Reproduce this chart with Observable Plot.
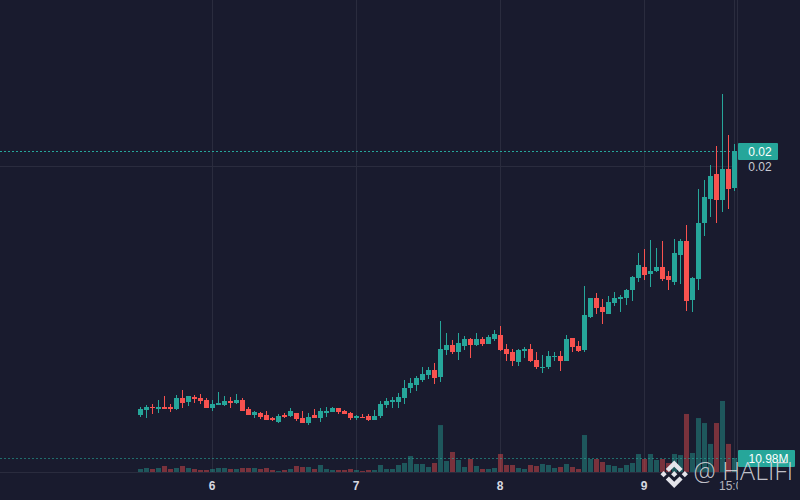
<!DOCTYPE html>
<html>
<head>
<meta charset="utf-8">
<script src="https://cdn.jsdelivr.net/npm/d3@7"></script>
<script src="https://cdn.jsdelivr.net/npm/@observablehq/plot@0.6"></script>
<style>
html,body{margin:0;padding:0;background:#191b2e;overflow:hidden}
</style>
</head>
<body>
<div id="chart"></div>
<script>
// Prices in units of 0.0001
const open = [75.5,78,79.5,78.5,79.5,79.5,78.5,84,82,84.5,84,83,79,80.5,80.5,82.5,81.5,83,78.5,75.5,76.5,75.5,74,72,75.5,75,76.5,74,71.5,75.5,
74,76.5,77,79,77.5,76.5,74,74.5,75,73,75,80.5,82,82,84,89,90.5,93,95.5,98,94.5,108,110.5,107,110,113.5,110.5,113.5,111,113.5,
115.5,108.5,107,102,107.5,108.5,103,99,99.5,104.5,105,102.5,114,110,108,124.5,134,129.5,126,131.5,133.5,134,138,144,149.5,146,147.5,149.5,145,142,
155.5,162.5,133,143.5,171.5,183.5,196,183,198.5,189];
const high = [79.5,80.5,81,83,85,81,85.5,88,85,85.5,86,84,83,87,85,84.5,86,84,79.5,77.5,77,77.5,74.5,76,76.5,79,76.5,77.5,76.5,78.5,
79,79.5,79.5,79,78,77,75.5,76,76,78,82.5,84,84.5,86.5,93,94,95,99.5,99.5,101.5,122.5,116.5,113,116.5,115,114,116.5,114.5,115.5,118,
120,111,108.5,108.5,109.5,111,107,105.5,107.5,107,107.5,115.5,114,112.5,140,134,136.5,133.5,135,137,135.5,138.5,145,156.5,158.5,163,159,162.5,147.5,163.5,
163.5,170.5,144.5,188.5,193,200.5,210,236,215.5,211];
const low = [74.5,74,76,76.5,78.5,77,78,79,80,81.5,81,79,77.5,80.5,80,79,81,77.5,75.5,74,73.5,73,72.5,71.5,74,74.5,72.5,71.5,70.5,74,
72,74.5,77,76,76,73,73,74,72.5,73,74,79,79,79,81,86.5,87.5,92,93.5,91,92,105.5,106,103,108,104,110,110,111,112.5,
107.5,102.5,100,100,104,102,98.5,96.5,98.5,102.5,97.5,102.5,107,107,107,124,126,121,126,130,127,130.5,132.5,142,143,139.5,147,142.5,138,140.5,
141,127.5,127,138,165,174.5,171.5,177,178.5,187.5];
const close = [78.5,79.5,79,79.5,78.5,78.5,84,81.5,85,83.5,82.5,79,81,81.5,82.5,81.5,83,77.5,75.5,77,74.5,73,73,75,74.5,77.5,73.5,71.5,74.5,74,
77.5,77.5,79,77,76,74,75,74,73,75,81,82.5,83,84.5,89,91.5,94,96,98,94,108.5,110.5,107,111.5,113.5,110.5,113.5,111,114.5,116,
108,106,102.5,108,108.5,102.5,99.5,99.5,105,105,102.5,113.5,109.5,107.5,125.5,134,129,127,132,134,134.5,138,144.5,150.5,145.5,147.5,149.5,143.5,143,156.5,
162.5,132.5,144,171.5,184.5,195,183,198.5,188.5,207.5];
// Volume in millions
const volume = [2.35,3.14,2.35,3.14,4.7,2.35,3.14,4.7,3.14,2.35,1.57,1.57,2.35,3.14,3.14,2.35,2.35,3.14,3.14,3.14,2.35,3.14,1.57,0.78,1.57,2.35,4.7,3.92,3.92,2.35,
5.49,2.35,1.57,1.57,1.57,2.35,1.57,0.78,1.57,1.57,5.49,2.35,2.35,5.49,7.06,12.5,6.27,6.27,3.92,7.06,36.8,8.62,15.7,9.41,3.92,10.2,4.7,2.35,2.35,3.14,
14.1,5.49,5.49,3.14,2.35,5.49,4.7,6.27,5.49,3.14,3.92,6.27,3.92,2.35,29,10.2,10.2,7.84,5.49,4.7,3.14,5.49,7.06,14.1,10.2,14.1,9.41,10.2,7.06,14.1,
13.3,45.5,14.9,42.3,38.4,22,38.4,55.7,22,10.98];
const dayTicks = [6,7,8,9];
const lastTickLabel = "15:00";
const lastVolumeLabel = "10.98M";
const watermark = "@ HALIFI";

const H = 3600e3;
const start = Date.UTC(2024,0,5,12);
const time = i => new Date(start + i*H);
const rows = open.map((o,i)=>({i,t:time(i),o,h:high[i],l:low[i],c:close[i],v:volume[i],up:close[i]>=o}));
const halfBody = H*2.5/6;
const UP="#26a69a", DOWN="#f9524f", GRID="#2a2c3e", BG="#191b2e";
const volY = v => 47 + v/1.568;
const lastRow = rows[rows.length-1];
const dayDates = dayTicks.map(d=>new Date(Date.UTC(2024,0,d)));
const FONT = "'Liberation Sans',Arial,sans-serif";

function pane(index, {y}, values, dim){
  const g=d3.create("svg:g");
  const tag=(val,label,w)=>{
    const yy=Math.round(y(val));
    g.append("rect").attr("x",738).attr("y",yy-8).attr("width",w).attr("height",17).attr("rx",1).attr("fill",UP);
    g.append("text").attr("x",738+w/2+2).attr("y",yy+5).attr("text-anchor","middle").attr("fill","#fff")
      .attr("font-family",FONT).attr("font-size",12).text(label);
  };
  g.append("rect").attr("x",738).attr("y",0).attr("width",62).attr("height",500).attr("fill",BG);
  g.append("text").attr("x",760).attr("y",y(200)+5).attr("text-anchor","middle").attr("fill","#c8cad2")
    .attr("font-family",FONT).attr("font-size",12).text((200/1e4).toFixed(2));
  tag(lastRow.c,(lastRow.c/1e4).toFixed(2),40);
  tag(volY(lastRow.v),lastVolumeLabel,57);
  return g.node();
}
function logo(){
  const g=d3.create("svg:g").attr("transform","translate(660.5,460.5) scale(0.2165)").attr("fill","#e4e4ea");
  ["m38.73 53.2 24.59-24.58 24.6 24.6 14.3-14.31L63.32 0l-38.9 38.9z",
   "m0 63.31 14.3-14.31 14.31 14.31-14.31 14.3z",
   "m38.73 73.41 24.59 24.59 24.6-24.6 14.31 14.29-38.9 38.91-38.91-38.88v-.03z",
   "m98 63.31 14.3-14.31 14.31 14.3-14.31 14.32z",
   "m77.83 63.3-14.51-14.52L52.59 59.5l-1.24 1.23-2.54 2.54 14.51 14.5 14.51-14.47z"]
   .forEach(d=>g.append("path").attr("d",d));
  return g.node();
}

const chart = Plot.plot({
  width:800,height:500,
  marginLeft:0,marginRight:0,marginTop:0,marginBottom:28,
  style:{background:BG,overflow:"hidden"},
  x:{type:"utc",domain:[new Date(start-140.5/6*H),new Date(start+(800-140.5)/6*H)],range:[0,800],axis:null},
  y:{type:"linear",domain:[47,283],range:[472,0],axis:null},
  marks:[
    Plot.ruleX([...dayDates,lastRow.t],{x:d=>d,y1:47,y2:283,stroke:GRID,strokeWidth:1,dx:-0.5}),
    Plot.ruleY([200],{stroke:GRID,strokeWidth:1}),
    Plot.ruleY([47],{stroke:GRID,strokeWidth:1}),
    Plot.rect(rows,{x1:d=>new Date(+d.t-halfBody),x2:d=>new Date(+d.t+halfBody),y1:47,y2:d=>volY(d.v),
      fill:d=>d.up?UP:DOWN,fillOpacity:0.43,inset:0}),
    Plot.ruleY([lastRow.c],{stroke:UP,strokeWidth:1,strokeDasharray:"2,2"}),
    Plot.ruleY([volY(lastRow.v)],{stroke:UP,strokeOpacity:0.6,strokeWidth:1,strokeDasharray:"2,2"}),
    Plot.ruleX(rows,{x:"t",y1:"l",y2:"h",stroke:d=>d.up?UP:DOWN,strokeWidth:1,dx:-0.5}),
    Plot.rect(rows,{x1:d=>new Date(+d.t-halfBody),x2:d=>new Date(+d.t+halfBody),y1:d=>Math.min(d.o,d.c),y2:d=>Math.max(d.o,d.c),
      fill:d=>d.up?UP:DOWN}),
    Plot.text(dayDates,{x:d=>d,y:47,dx:-1,dy:14,text:d=>String(d.getUTCDate()),fill:"#d6d8e0",fontSize:12,fontWeight:"bold",fontFamily:FONT,lineAnchor:"middle"}),
    Plot.text([lastRow.t],{x:d=>d,y:47,dx:-1,dy:14,text:()=>lastTickLabel,fill:"#b2b5be",fontSize:12,fontFamily:FONT,lineAnchor:"middle"}),
    Plot.ruleX([new Date(start+(737-140.5)/6*H)],{y1:47,y2:283,stroke:GRID,strokeWidth:1}),
    pane,
    logo,
    Plot.text([watermark],{frameAnchor:"top-left",dx:693,dy:462,text:d=>d,fill:"#d8d8de",fillOpacity:0.9,fontSize:25,fontWeight:300,fontFamily:"'Open Sans',sans-serif",textAnchor:"start",lineAnchor:"top"})
  ]
});
document.getElementById("chart").append(chart);
</script>
</body>
</html>
